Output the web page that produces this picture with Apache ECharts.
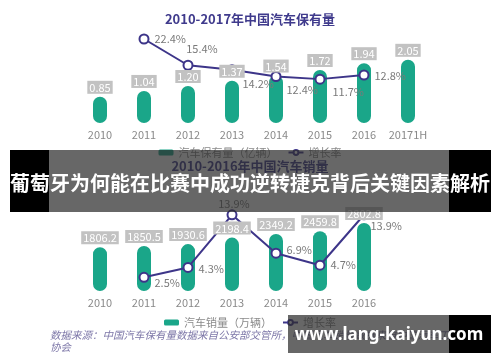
<!DOCTYPE html>
<html><head><meta charset="utf-8">
<script src="https://cdn.jsdelivr.net/npm/echarts@6/dist/echarts.min.js"></script>
<style>html,body{margin:0;padding:0;background:#fff}#c{width:500px;height:362px}</style>
</head><body><div id="c"></div>
<script>
const years1 = ['2010','2011','2012','2013','2014','2015','2016','20171H'];
const stock = [0.85, 1.04, 1.20, 1.37, 1.54, 1.72, 1.94, 2.05];
const stockGrowth = [null, 22.4, 15.4, 14.2, 12.4, 11.7, 12.8, null];
const years2 = ['2010','2011','2012','2013','2014','2015','2016'];
const sales = [1806.2, 1850.5, 1930.6, 2198.4, 2349.2, 2459.8, 2802.8];
const salesGrowth = [null, 2.5, 4.3, 13.9, 6.9, 4.7, 13.9];
const title1 = '2010-2017年中国汽车保有量';
const title2 = '2010-2016年中国汽车销量';
const legend1 = ['汽车保有量（亿辆）', '增长率'];
const legend2 = ['汽车销量（万辆）', '增长率'];
const sourceLines = ['数据来源：中国汽车保有量数据来自公安部交管所，中国汽车销量数据来自中国汽车工业', '协会'];
const bannerText = '葡萄牙为何能在比赛中成功逆转捷克背后关键因素解析';
const siteText = 'www.lang-kaiyun.com';

const GREEN = '#1aa689', PURPLE = '#3d3589', LBL = '#7a7a7a';
const FONT = '"Noto Sans CJK SC", "Noto Sans", sans-serif';
const GREY = 'rgba(45,45,45,0.72)';

// label placement (style, not data)
const lp1 = [null, ['right',[0,0],5], ['top',[14,0],5], ['right',[0,14],5], ['right',[0,13],5], ['right',[2,13],5], ['right',[0,1],5], null];
const lp2 = [null, ['right',[0,6],5], ['right',[0,1],5], ['top',[2,0],0], ['right',[0,-3],5], ['right',[0,0],5], ['right',[-4,11],5]];

function lineData(vals, lp) {
  return vals.map((v, i) => {
    if (v == null) return '-';
    const p = lp[i];
    return { value: v, label: { show: true, position: p[0], offset: p[1], distance: p[2] } };
  });
}

const chart = echarts.init(document.getElementById('c'), null, { renderer: 'canvas' });
const axisX = (idx, data) => ({
  type: 'category', gridIndex: idx, data: data,
  axisLine: { show: false }, axisTick: { show: false },
  axisLabel: { color: '#8a8a8a', fontSize: 11, margin: 6, fontFamily: FONT, interval: 0 }
});
const axisY = (idx, max) => ({
  type: 'value', gridIndex: idx, min: 0, max: max, show: false, splitLine: { show: false }
});
const barLabel = (dec) => ({
  show: true, position: 'top', distance: 3, color: '#fff', fontSize: 11, fontFamily: FONT,
  backgroundColor: '#c2c2c2', padding: [1, 2, 0, 2], lineHeight: 12,
  formatter: p => Number(p.value).toFixed(dec)
});

chart.setOption({
  animation: false,
  textStyle: { fontFamily: FONT },
  title: [
    { text: title1, left: 'center', top: 8, textStyle: { color: '#3f3a8c', fontSize: 13, fontWeight: 'bold' } },
    { text: title2, left: 'center', top: 155, textStyle: { color: '#3f3a8c', fontSize: 13, fontWeight: 'bold' } }
  ],
  legend: [
    { top: 142, left: 'center', itemGap: 10, itemWidth: 15, itemHeight: 6,
      textStyle: { color: '#8a8a8a', fontSize: 11 },
      data: [{ name: legend1[0], icon: 'roundRect' }, { name: legend1[1] }] },
    { top: 312, left: 'center', itemGap: 10, itemWidth: 15, itemHeight: 6,
      textStyle: { color: '#8a8a8a', fontSize: 11 },
      data: [{ name: legend2[0], icon: 'roundRect' }, { name: legend2[1] }] }
  ],
  grid: [
    { left: 78, top: 33, width: 352, height: 90 },
    { left: 78, top: 206, width: 308, height: 85 }
  ],
  xAxis: [axisX(0, years1), axisX(1, years2)],
  yAxis: [axisY(0, 2.92), axisY(0, 24), axisY(1, 3500), axisY(1, 15.5)],
  series: [
    { name: legend1[0], type: 'bar', xAxisIndex: 0, yAxisIndex: 0, data: stock, barWidth: 14, z: 2,
      itemStyle: { color: GREEN, borderRadius: 7 } },
    { name: legend1[1], type: 'line', xAxisIndex: 0, yAxisIndex: 1, data: lineData(stockGrowth, lp1), z: 3,
      symbol: 'emptyCircle', symbolSize: 9, lineStyle: { color: PURPLE, width: 2 },
      itemStyle: { color: PURPLE, borderWidth: 2.5 },
      label: { color: LBL, fontSize: 11, formatter: p => p.value + '%' } },
    { type: 'bar', xAxisIndex: 0, yAxisIndex: 0, data: stock, barWidth: 14, barGap: '-100%', z: 5, silent: true,
      itemStyle: { color: 'rgba(0,0,0,0)' }, label: barLabel(2) },
    { name: legend2[0], type: 'bar', xAxisIndex: 1, yAxisIndex: 2, data: sales, barWidth: 14, z: 2,
      itemStyle: { color: GREEN, borderRadius: 7 } },
    { name: legend2[1], type: 'line', xAxisIndex: 1, yAxisIndex: 3, data: lineData(salesGrowth, lp2), z: 3,
      symbol: 'emptyCircle', symbolSize: 9, lineStyle: { color: PURPLE, width: 2 },
      itemStyle: { color: PURPLE, borderWidth: 2.5 },
      label: { color: LBL, fontSize: 11, formatter: p => p.value + '%' } },
    { type: 'bar', xAxisIndex: 1, yAxisIndex: 2, data: sales, barWidth: 14, barGap: '-100%', z: 5, silent: true,
      itemStyle: { color: 'rgba(0,0,0,0)' }, label: barLabel(1) }
  ],
  graphic: [
    { type: 'text', left: 50, top: 330, z: 10, style: { text: sourceLines[0], fill: '#7d77a8', font: 'italic 10.5px ' + FONT } },
    { type: 'text', left: 50, top: 342, z: 10, style: { text: sourceLines[1], fill: '#7d77a8', font: 'italic 10.5px ' + FONT } },
    { type: 'rect', z: 100, shape: { x: 10, y: 150, width: 39, height: 62 }, style: { fill: '#000' } },
    { type: 'rect', z: 100, shape: { x: 449, y: 150, width: 42, height: 62 }, style: { fill: '#000' } },
    { type: 'rect', z: 100, shape: { x: 49, y: 150, width: 400, height: 62 }, style: { fill: GREY } },
    { type: 'rect', z: 100, shape: { x: 288, y: 315, width: 161, height: 38 }, style: { fill: GREY } },
    { type: 'rect', z: 100, shape: { x: 449, y: 315, width: 42, height: 38 }, style: { fill: '#000' } },
    { type: 'text', z: 110, x: 250, y: 183, style: { text: bannerText, fill: '#fff', font: 'bold 20px "Noto Sans CJK SC"', textAlign: 'center', textVerticalAlign: 'middle' } },
    { type: 'text', z: 110, x: 389, y: 335, style: { text: siteText, fill: '#fff', font: 'bold 17px "Noto Sans", sans-serif', textAlign: 'center', textVerticalAlign: 'middle' } }
  ]
});
</script></body></html>
